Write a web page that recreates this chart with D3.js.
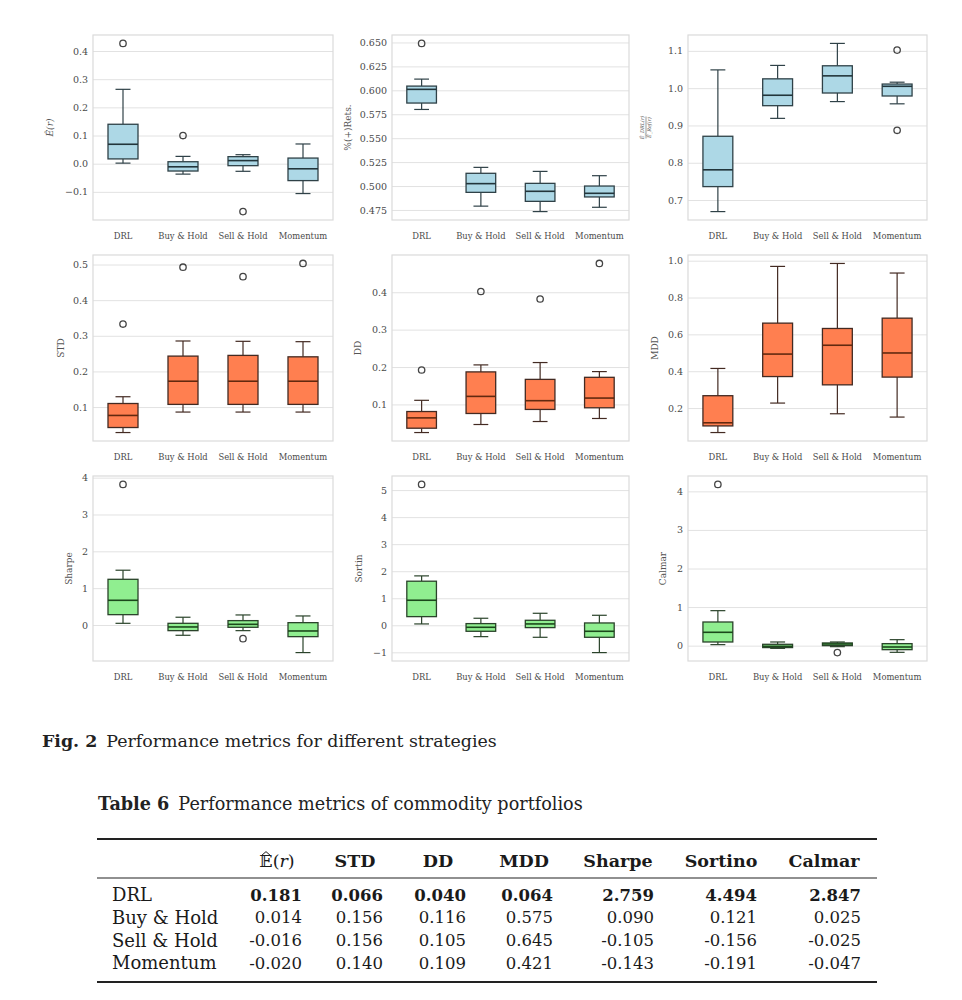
<!DOCTYPE html>
<html>
<head>
<meta charset="utf-8">
<script src="https://cdn.jsdelivr.net/npm/d3@7"></script>
<style>
  body { margin: 0; background: #fff; }
  svg { display: block; }
</style>
</head>
<body>
<script>
const categories = ['DRL', 'Buy & Hold', 'Sell & Hold', 'Momentum']

// box stats per strategy: [whisker low, q1, median, q3, whisker high]
const erBoxes = [[0.002, 0.017, 0.069, 0.140, 0.264], [-0.037, -0.026, -0.011, 0.007, 0.026], [-0.027, -0.007, 0.011, 0.025, 0.032], [-0.106, -0.060, -0.018, 0.020, 0.070]]
const erOutliers = [[0.427], [0.100], [-0.170], []]
const erTicks = [-0.1, 0.0, 0.1, 0.2, 0.3, 0.4]

const posBoxes = [[0.580, 0.5867, 0.601, 0.6044, 0.6117], [0.479, 0.4934, 0.5025, 0.5133, 0.5195], [0.4733, 0.484, 0.4945, 0.5028, 0.5153], [0.4778, 0.4886, 0.4924, 0.500, 0.5108]]
const posOutliers = [[0.649], [], [], []]
const posTicks = [0.475, 0.500, 0.525, 0.550, 0.575, 0.600, 0.625, 0.650]

const ratioBoxes = [[0.669, 0.736, 0.781, 0.871, 1.049], [0.919, 0.953, 0.981, 1.025, 1.061], [0.964, 0.987, 1.033, 1.060, 1.120], [0.958, 0.979, 1.005, 1.011, 1.016]]
const ratioOutliers = [[], [], [], [1.102, 0.887]]
const ratioTicks = [0.7, 0.8, 0.9, 1.0, 1.1]

const stdBoxes = [[0.0285, 0.0426, 0.0765, 0.110, 0.129], [0.086, 0.1075, 0.1725, 0.243, 0.2854], [0.086, 0.1075, 0.1725, 0.245, 0.2845], [0.086, 0.1075, 0.1725, 0.241, 0.2835]]
const stdOutliers = [[0.333], [0.4925], [0.466], [0.503]]
const stdTicks = [0.1, 0.2, 0.3, 0.4, 0.5]

const ddBoxes = [[0.0248, 0.0364, 0.064, 0.081, 0.111], [0.0463, 0.0758, 0.1215, 0.187, 0.2057], [0.0543, 0.0866, 0.110, 0.167, 0.212], [0.0624, 0.091, 0.117, 0.1725, 0.1878]]
const ddOutliers = [[0.192], [0.402], [0.382], [0.477]]
const ddTicks = [0.1, 0.2, 0.3, 0.4]

const mddBoxes = [[0.067, 0.103, 0.120, 0.267, 0.415], [0.227, 0.371, 0.493, 0.661, 0.969], [0.169, 0.326, 0.541, 0.632, 0.985], [0.151, 0.368, 0.499, 0.688, 0.933]]
const mddOutliers = [[], [], [], []]
const mddTicks = [0.2, 0.4, 0.6, 0.8, 1.0]

const sharpeBoxes = [[0.045, 0.28, 0.67, 1.24, 1.487], [-0.28, -0.154, -0.054, 0.045, 0.21], [-0.154, -0.063, 0.018, 0.118, 0.272], [-0.75, -0.317, -0.163, 0.063, 0.245]]
const sharpeOutliers = [[3.817], [], [-0.372], []]
const sharpeTicks = [0, 1, 2, 3, 4]

const sortinoBoxes = [[0.05, 0.32, 0.926, 1.63, 1.827], [-0.42, -0.222, -0.074, 0.062, 0.26], [-0.444, -0.086, 0.05, 0.185, 0.444], [-1.01, -0.444, -0.222, 0.086, 0.37]]
const sortinoOutliers = [[5.21], [], [], []]
const sortinoTicks = [-1, 0, 1, 2, 3, 4, 5]

const calmarBoxes = [[0.026, 0.095, 0.346, 0.613, 0.907], [-0.07, -0.05, -0.017, 0.035, 0.095], [-0.026, 0.0, 0.043, 0.07, 0.095], [-0.173, -0.104, -0.035, 0.052, 0.155]]
const calmarOutliers = [[4.18], [], [-0.18], []]
const calmarTicks = [0, 1, 2, 3, 4]

// table 6
const tableHeaders = ['E(r)', 'STD', 'DD', 'MDD', 'Sharpe', 'Sortino', 'Calmar']
const drlRow = [0.181, 0.066, 0.040, 0.064, 2.759, 4.494, 2.847]
const buyHoldRow = [0.014, 0.156, 0.116, 0.575, 0.090, 0.121, 0.025]
const sellHoldRow = [-0.016, 0.156, 0.105, 0.645, -0.105, -0.156, -0.025]
const momentumRow = [-0.020, 0.140, 0.109, 0.421, -0.143, -0.191, -0.047]

const W = 962
const H = 1000
const serif = '"DejaVu Serif", serif'

const palette = {
  blue: { fill: '#add8e6', edge: '#2f4147', median: '#22353b' },
  coral: { fill: '#ff7f50', edge: '#432a22', median: '#62290f' },
  green: { fill: '#90ee90', edge: '#2a432a', median: '#1b481b' }
}

const colX = [[93, 333], [392, 629], [688, 927]]
const rowY = [[35, 220], [255, 441], [476, 661]]

const panels = [
  { label: 'er', boxes: erBoxes, outliers: erOutliers, ticks: erTicks, fmt: '.1f', color: 'blue', col: 0, row: 0, labelX: 50 },
  { label: '%(+)Rets.', boxes: posBoxes, outliers: posOutliers, ticks: posTicks, fmt: '.3f', color: 'blue', col: 1, row: 0, labelX: 348 },
  { label: 'ratio', boxes: ratioBoxes, outliers: ratioOutliers, ticks: ratioTicks, fmt: '.1f', color: 'blue', col: 2, row: 0, labelX: 646 },
  { label: 'STD', boxes: stdBoxes, outliers: stdOutliers, ticks: stdTicks, fmt: '.1f', color: 'coral', col: 0, row: 1, labelX: 61 },
  { label: 'DD', boxes: ddBoxes, outliers: ddOutliers, ticks: ddTicks, fmt: '.1f', color: 'coral', col: 1, row: 1, labelX: 358 },
  { label: 'MDD', boxes: mddBoxes, outliers: mddOutliers, ticks: mddTicks, fmt: '.1f', color: 'coral', col: 2, row: 1, labelX: 655 },
  { label: 'Sharpe', boxes: sharpeBoxes, outliers: sharpeOutliers, ticks: sharpeTicks, fmt: 'd', color: 'green', col: 0, row: 2, labelX: 69 },
  { label: 'Sortin', boxes: sortinoBoxes, outliers: sortinoOutliers, ticks: sortinoTicks, fmt: 'd', color: 'green', col: 1, row: 2, labelX: 359 },
  { label: 'Calmar', boxes: calmarBoxes, outliers: calmarOutliers, ticks: calmarTicks, fmt: 'd', color: 'green', col: 2, row: 2, labelX: 663 }
]

const svg = d3.select('body').append('svg')
  .attr('width', W)
  .attr('height', H)
  .style('font-family', serif)

svg.append('rect').attr('width', W).attr('height', H).attr('fill', '#fff')

function drawPanel (p) {
  const [x0, x1] = colX[p.col]
  const [y0, y1] = rowY[p.row]
  const c = palette[p.color]

  // matplotlib-style 5% margins round the data
  const all = p.boxes.flat().concat(p.outliers.flat())
  const [lo, hi] = d3.extent(all)
  const pad = (hi - lo) * 0.05

  const y = d3.scaleLinear().domain([lo - pad, hi + pad]).range([y1, y0])
  const x = d3.scaleBand().domain(categories).range([x0, x1])
  const bw = x.bandwidth() * 0.5

  const g = svg.append('g')

  g.append('g')
    .attr('transform', `translate(${x0},0)`)
    .call(d3.axisLeft(y).tickValues(p.ticks).tickSize(-(x1 - x0)).tickPadding(5).tickFormat(d3.format(p.fmt)))
    .call(a => a.select('.domain').remove())
    .call(a => a.selectAll('line').attr('stroke', '#e2e2e2').attr('stroke-width', 1))
    .call(a => a.selectAll('text').attr('fill', '#4a4a4a').style('font-size', '9.5px').style('font-family', serif))

  g.append('rect')
    .attr('x', x0).attr('y', y0)
    .attr('width', x1 - x0).attr('height', y1 - y0)
    .attr('fill', 'none')
    .attr('stroke', '#dadada')
    .attr('stroke-width', 1.2)

  g.append('g')
    .attr('transform', `translate(0,${y1})`)
    .call(d3.axisBottom(x).tickSize(0).tickPadding(13))
    .call(a => a.select('.domain').remove())
    .call(a => a.selectAll('text').attr('fill', '#4a4a4a').style('font-size', '8.4px').style('font-family', serif))

  const boxes = g.selectAll('g.box')
    .data(p.boxes.map((b, i) => ({ cat: categories[i], s: b, out: p.outliers[i] })))
    .enter().append('g')
    .attr('class', 'box')

  const cx = d => x(d.cat) + x.bandwidth() / 2

  // whiskers
  boxes.append('line')
    .attr('x1', cx).attr('x2', cx)
    .attr('y1', d => y(d.s[0])).attr('y2', d => y(d.s[1]))
    .attr('stroke', c.edge).attr('stroke-width', 1.2)
  boxes.append('line')
    .attr('x1', cx).attr('x2', cx)
    .attr('y1', d => y(d.s[3])).attr('y2', d => y(d.s[4]))
    .attr('stroke', c.edge).attr('stroke-width', 1.2)

  // caps
  boxes.selectAll('line.cap')
    .data(d => [d.s[0], d.s[4]].map(v => ({ v, cat: d.cat })))
    .enter().append('line')
    .attr('class', 'cap')
    .attr('x1', d => cx(d) - bw / 4).attr('x2', d => cx(d) + bw / 4)
    .attr('y1', d => y(d.v)).attr('y2', d => y(d.v))
    .attr('stroke', c.edge).attr('stroke-width', 1.2)

  boxes.append('rect')
    .attr('x', d => cx(d) - bw / 2)
    .attr('width', bw)
    .attr('y', d => y(d.s[3]))
    .attr('height', d => Math.max(0.5, y(d.s[1]) - y(d.s[3])))
    .attr('fill', c.fill)
    .attr('stroke', c.edge)
    .attr('stroke-width', 1.3)

  boxes.append('line')
    .attr('x1', d => cx(d) - bw / 2).attr('x2', d => cx(d) + bw / 2)
    .attr('y1', d => y(d.s[2])).attr('y2', d => y(d.s[2]))
    .attr('stroke', c.median).attr('stroke-width', 1.6)

  boxes.selectAll('circle')
    .data(d => d.out.map(v => ({ v, cat: d.cat })))
    .enter().append('circle')
    .attr('cx', cx)
    .attr('cy', d => y(d.v))
    .attr('r', 3.2)
    .attr('fill', 'none')
    .attr('stroke', '#444')
    .attr('stroke-width', 1.3)

  // y label
  const ly = (y0 + y1) / 2
  const lab = g.append('g').attr('transform', `translate(${p.labelX},${ly}) rotate(-90)`)
  if (p.label === 'er') {
    lab.append('text').attr('text-anchor', 'middle').attr('dy', '0.35em')
      .attr('fill', '#555').style('font-size', '9px').style('font-style', 'italic')
      .text('Ê(r)')
  } else if (p.label === 'ratio') {
    lab.append('text').attr('text-anchor', 'middle').attr('y', -2)
      .attr('fill', '#555').style('font-size', '5px').style('font-style', 'italic')
      .text('Ê_DRL(r)')
    lab.append('line').attr('x1', -11).attr('x2', 11).attr('y1', 0).attr('y2', 0)
      .attr('stroke', '#555').attr('stroke-width', 0.6)
    lab.append('text').attr('text-anchor', 'middle').attr('y', 5)
      .attr('fill', '#555').style('font-size', '5px').style('font-style', 'italic')
      .text('Ê_Ref(r)')
  } else {
    lab.append('text').attr('text-anchor', 'middle').attr('dy', '0.35em')
      .attr('fill', '#555').style('font-size', '9px')
      .text(p.label)
  }
}

panels.forEach(drawPanel)

// figure caption
const cap = svg.append('text').attr('x', 42).attr('y', 747)
  .style('font-size', '17.4px').attr('fill', '#222')
cap.append('tspan').style('font-weight', 'bold').text('Fig. 2')
cap.append('tspan').attr('dx', 9).text('Performance metrics for different strategies')

const tcap = svg.append('text').attr('x', 98).attr('y', 810)
  .style('font-size', '17.6px').attr('fill', '#222')
tcap.append('tspan').style('font-weight', 'bold').text('Table 6')
tcap.append('tspan').attr('dx', 9).text('Performance metrics of commodity portfolios')

// table
const tableRows = [drlRow, buyHoldRow, sellHoldRow, momentumRow]
const tLeft = 97
const tRight = 877
const colRight = [302, 383, 466, 553, 654, 757, 861]
const headCenter = [277, 355, 438, 524, 618, 721, 824]
const rowY6 = d3.scalePoint().domain(categories).range([895, 963])
const fmt3 = v => d3.format('.3f')(v).replace('−', '-')

svg.append('line').attr('x1', tLeft).attr('x2', tRight).attr('y1', 839).attr('y2', 839).attr('stroke', '#222').attr('stroke-width', 2)
svg.append('line').attr('x1', tLeft).attr('x2', tRight).attr('y1', 878).attr('y2', 878).attr('stroke', '#222').attr('stroke-width', 1.2)
svg.append('line').attr('x1', tLeft).attr('x2', tRight).attr('y1', 982).attr('y2', 982).attr('stroke', '#222').attr('stroke-width', 2)

const tfont = (sel, size) => sel.style('font-size', size + 'px').attr('fill', '#1a1a1a')

tableHeaders.forEach((h, i) => {
  const t = svg.append('text').attr('x', headCenter[i]).attr('y', 861).attr('dy', '0.35em')
    .attr('text-anchor', 'middle').call(tfont, 17.5)
  if (i === 0) {
    t.append('tspan').text('𝔼')
    t.append('tspan').text('(')
    t.append('tspan').style('font-style', 'italic').text('r')
    t.append('tspan').text(')')
    // hat over the E, placed from the glyph box
    const e = t.node().getExtentOfChar(0)
    const hx = e.x + e.width / 2
    const hy = e.y + e.height * 0.2
    svg.append('path')
      .attr('d', `M${hx - 4},${hy} L${hx},${hy - 3.5} L${hx + 4},${hy}`)
      .attr('fill', 'none').attr('stroke', '#1a1a1a').attr('stroke-width', 1)
  } else {
    t.style('font-weight', 'bold').text(h)
  }
})

categories.forEach((cat, r) => {
  svg.append('text').attr('x', 112).attr('y', rowY6(cat)).attr('dy', '0.35em')
    .call(tfont, 18).text(cat)
  tableRows[r].forEach((v, i) => {
    svg.append('text').attr('x', colRight[i]).attr('y', rowY6(cat)).attr('dy', '0.35em')
      .attr('text-anchor', 'end').call(tfont, 16.5)
      .style('font-weight', r === 0 ? 'bold' : 'normal')
      .text(fmt3(v))
  })
})
</script>
</body>
</html>
